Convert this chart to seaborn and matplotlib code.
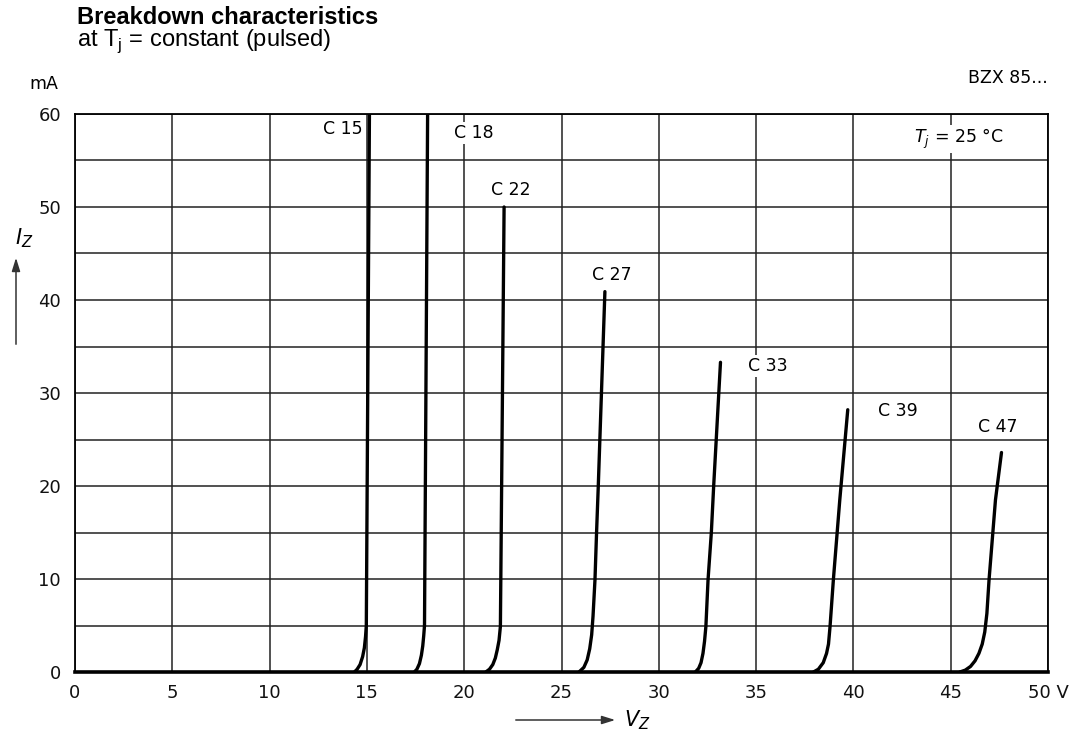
import matplotlib
matplotlib.use("Agg")
import matplotlib.pyplot as plt
import seaborn as sns
from matplotlib.ticker import MultipleLocator

# Breakdown curves (V in volts, I in mA)
c15_v = [14.36, 14.5, 14.65, 14.78, 14.87, 14.93, 14.97, 15.13]
c15_i = [0, 0.3, 0.8, 1.65, 2.6, 3.8, 5.0, 60.0]
c18_v = [17.44, 17.57, 17.7, 17.8, 17.87, 17.92, 17.96, 18.12]
c18_i = [0, 0.3, 0.9, 1.8, 2.8, 3.9, 5.0, 60.0]
c22_v = [21.11, 21.3, 21.47, 21.6, 21.7, 21.79, 21.86, 22.05]
c22_i = [0, 0.3, 0.8, 1.5, 2.4, 3.4, 4.9, 50.0]
c27_v = [25.9, 26.15, 26.32, 26.45, 26.55, 26.62, 26.72, 26.8, 26.89, 27.23]
c27_i = [0, 0.5, 1.3, 2.5, 4.0, 6.0, 9.9, 14.9, 20.0, 40.9]
c33_v = [31.88, 32.05, 32.17, 32.27, 32.35, 32.42, 32.53, 32.70, 32.82, 33.17]
c33_i = [0, 0.4, 1.0, 2.0, 3.3, 4.9, 9.9, 15.0, 20.0, 33.3]
c39_v = [37.95, 38.2, 38.45, 38.62, 38.72, 38.8, 38.97, 39.3, 39.71]
c39_i = [0, 0.3, 1.0, 2.0, 3.0, 4.9, 9.9, 18.5, 28.2]
c47_v = [45.47, 45.75, 46.02, 46.25, 46.45, 46.62, 46.75, 46.86, 46.97, 47.3, 47.61]
c47_i = [0, 0.2, 0.6, 1.2, 2.0, 3.0, 4.3, 6.3, 9.9, 18.5, 23.6]

curve_names = ["C 15", "C 18", "C 22", "C 27", "C 33", "C 39", "C 47"]
curve_v = [c15_v, c18_v, c22_v, c27_v, c33_v, c39_v, c47_v]
curve_i = [c15_i, c18_i, c22_i, c27_i, c33_i, c39_i, c47_i]
# where each curve label sits (V, mA)
label_v = [13.74, 20.5, 22.4, 27.6, 35.6, 42.3, 47.4]
label_i = [58.4, 58.0, 51.8, 42.7, 32.9, 28.1, 26.3]

x_ticks = [0, 5, 10, 15, 20, 25, 30, 35, 40, 45, 50]
x_labels = ["0", "5", "10", "15", "20", "25", "30", "35", "40", "45", "50 V"]
y_ticks = [0, 10, 20, 30, 40, 50, 60]

sns.set_style("white")
plt.rcParams['font.family'] = ['DejaVu Sans']
plt.rcParams['text.color'] = 'black'

W, H = 1084, 733
fig = plt.figure(figsize=(W / 100, H / 100), dpi=100)
ax = fig.add_axes([75 / W, 1 - 672 / H, (1048 - 75) / W, (672 - 114) / H])

for v, i in zip(curve_v, curve_i):
    sns.lineplot(x=v, y=i, sort=False, color="black", linewidth=2.4,
                 ax=ax, clip_on=True, zorder=4)

for name, lv, li in zip(curve_names, label_v, label_i):
    ax.text(lv, li, name, ha="center", va="center", fontsize=12.5,
            bbox=dict(facecolor="white", edgecolor="none", pad=1.5), zorder=3)

ax.text(45.4, 57.3, r"$T_j$ = 25 °C", ha="center", va="center", fontsize=12.5,
        bbox=dict(facecolor="white", edgecolor="none", pad=1.5), zorder=3)

ax.set_xlim(0, 50)
ax.set_ylim(0, 60)
ax.set_xticks(x_ticks)
ax.set_xticklabels(x_labels)
ax.set_yticks(y_ticks)
ax.yaxis.set_minor_locator(MultipleLocator(5))
ax.grid(True, which="both", color="#222222", linewidth=1.1, zorder=1)
ax.set_axisbelow(True)
ax.tick_params(axis="both", which="both", length=0, labelsize=13, colors="#111111")
ax.tick_params(axis="x", pad=9)
ax.tick_params(axis="y", pad=10)
for s in ax.spines.values():
    s.set_color("black")
    s.set_linewidth(1.3)
ax.spines["bottom"].set_linewidth(2.6)
ax.set_xlabel("")
ax.set_ylabel("")

# header texts
fig.text(77 / W, 1 - 18 / H, "Breakdown characteristics", fontsize=17,
         fontweight="bold", family="Liberation Sans", va="center", ha="left")
fig.text(77 / W, 1 - 41 / H, r"at T$_\mathregular{j}$ = constant (pulsed)", fontsize=17,
         family="Liberation Sans", va="center", ha="left")
fig.text(44 / W, 1 - 84 / H, "mA", fontsize=12.5, va="center", ha="center")
fig.text(1048 / W, 1 - 78 / H, "BZX 85...", fontsize=12.5, va="center", ha="right")

# axis quantity labels with arrows
ax.annotate("", xy=(16, H - 255), xytext=(16, H - 347), xycoords="figure pixels",
            textcoords="figure pixels",
            arrowprops=dict(arrowstyle="-|>,head_length=0.8,head_width=0.25",
                            color="#333333", lw=1.1))
fig.text(24 / W, 1 - 238 / H, r"$I_Z$", fontsize=15, va="center", ha="center")
ax.annotate("", xy=(618, H - 720), xytext=(513, H - 720), xycoords="figure pixels",
            textcoords="figure pixels",
            arrowprops=dict(arrowstyle="-|>,head_length=0.8,head_width=0.25",
                            color="#333333", lw=1.1))
fig.text(637 / W, 1 - 720 / H, r"$V_Z$", fontsize=15, va="center", ha="center")

fig.savefig("out.png", dpi=100)
